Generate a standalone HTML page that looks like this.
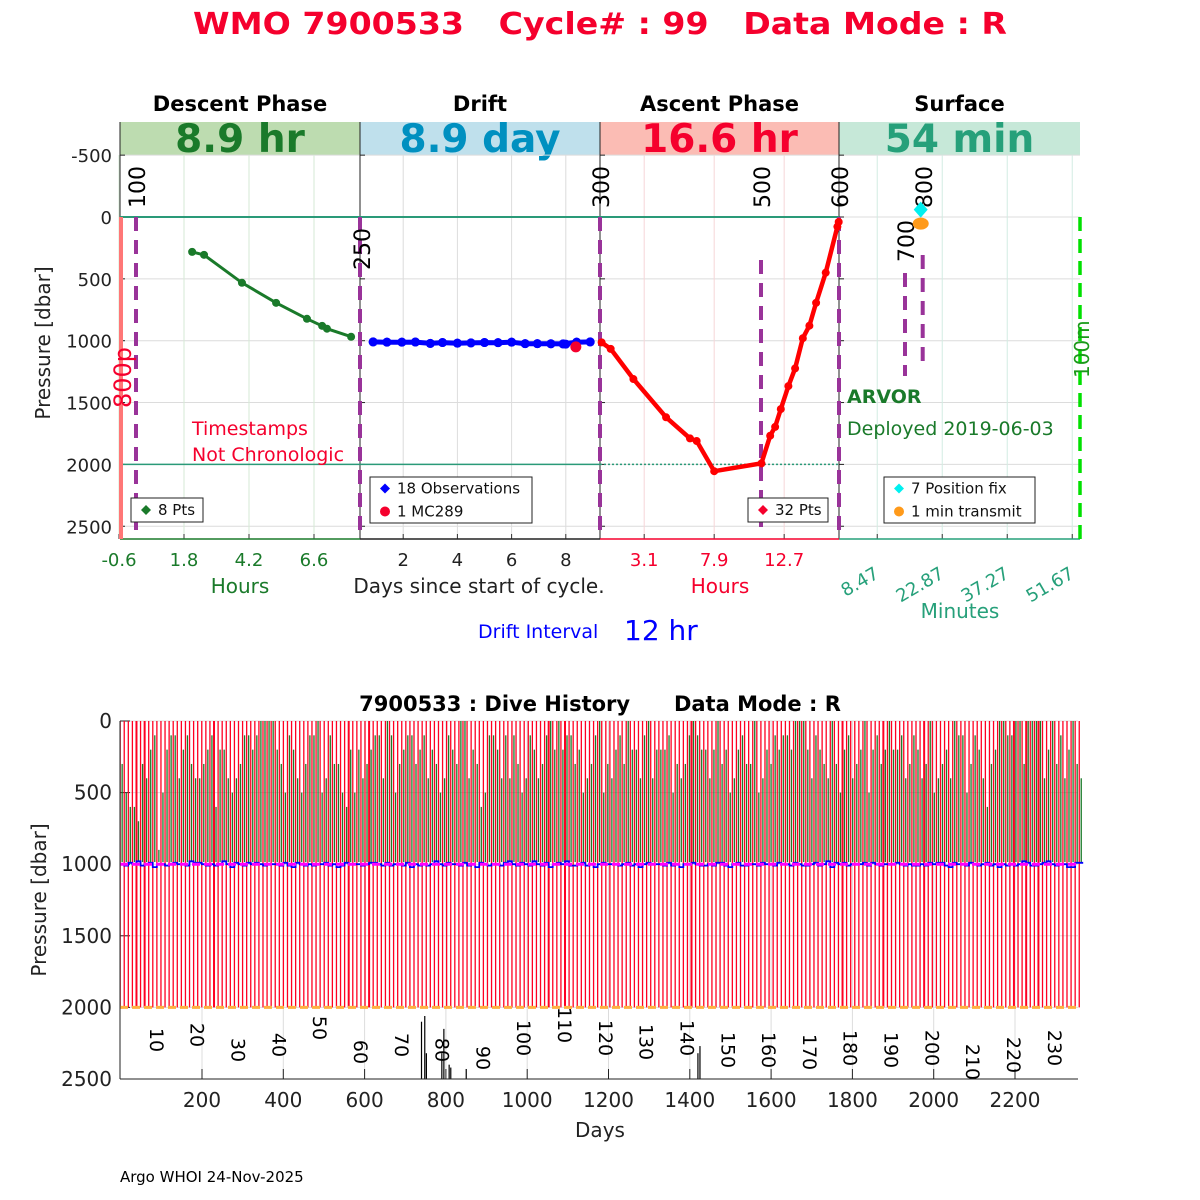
<!DOCTYPE html>
<html><head><meta charset="utf-8"><style>
html,body{margin:0;padding:0;background:#fff}
svg{display:block;font-family:"DejaVu Sans","Liberation Sans",sans-serif}
</style></head><body>
<svg id="s" width="1200" height="1200" viewBox="0 0 1200 1200">
<text x="600" y="34" text-anchor="middle" font-size="30" font-weight="bold" fill="#f5002d" textLength="814" lengthAdjust="spacingAndGlyphs">WMO 7900533&#160;&#160;&#160;Cycle# : 99&#160;&#160;&#160;Data Mode : R</text>
<g id="topg"></g>
<g id="bot"></g>
<text x="120" y="1182" font-size="15" fill="#000">Argo WHOI 24-Nov-2025</text>
</svg>
<script>
// ---------- top panel data ----------
const descentHours=[2.1,2.54,3.94,5.2,6.34,6.9,7.08,7.97];
const descentPres=[282,306,532,694,823,880,903,968];
const driftDays=[0.89,1.4,1.95,2.45,3.0,3.45,4.0,4.5,5.0,5.5,6.0,6.5,6.95,7.45,7.9,8.4,8.9,8.0];
const driftPres=[1010,1012,1012,1011,1022,1015,1020,1018,1015,1016,1012,1024,1024,1025,1026,1012,1010,1028];
const mcDays=[8.37];const mcPres=[1050];
const ascentHours=[0.18,0.8,2.36,4.6,6.24,6.7,7.9,11.14,11.74,12.08,12.47,12.99,13.45,13.98,14.43,14.89,15.55,16.35,16.44];
const ascentPres=[1014,1066,1310,1619,1790,1811,2055,1992,1768,1697,1553,1367,1224,980,879,694,450,78,40];
const fixMin=[18.1];const fixPres=[-60];
const txMin=[18.1];const txPres=[54];
const yTicksTop=[-500,0,500,1000,1500,2000,2500];
const descTicks=[-0.6,1.8,4.2,6.6];
const driftTicks=[2,4,6,8];
const ascTicks=[3.1,7.9,12.7];
const surfTicks=[8.47,22.87,37.27,51.67];
// ---------- bottom chart data ----------
const nCycles=236;
const greenTopStr="3566734219521142134432162245431121000023512453110541335625243211401532113214235412300423651124141354124310202113254310534213022410422215343101224203254213305423121120002412340352143205213202214312430543240115312463200110030000420314203412";
const driftStr="5645365475565455634456565357456454565556467456565546576455565445646556475656535645564657456556435645635647545366546575455565465754555646575545665644675466556455645564566546537454655546456555456566564544674556456546575656534665435655774464";
const deepRed=[5,7,24,57,62,106,110,141,178,188,198,220,223,226];
const spikeDays=[740,748,752,790,795,808,812,850,1420,1425];
const spikePres=[2100,2060,2320,2320,2150,2400,2420,2430,2320,2270];
const xTicksBot=[200,400,600,800,1000,1200,1400,1600,1800,2000,2200];
const yTicksBot=[0,500,1000,1500,2000,2500];
const cycLabels=[10,20,30,40,50,60,70,80,90,100,110,120,130,140,150,160,170,180,190,200,210,220,230];
const cycLabelY=[1040,1035,1050,1045,1028,1052,1045,1050,1058,1038,1025,1038,1042,1038,1050,1050,1052,1048,1050,1048,1062,1055,1048];

const NS="http://www.w3.org/2000/svg";
function mk(tag,attrs,parent,txt){const e=document.createElementNS(NS,tag);for(const k in attrs)e.setAttribute(k,attrs[k]);if(txt!==undefined)e.textContent=txt;parent.appendChild(e);return e;}
const topG=document.getElementById('topg');const bot=document.getElementById('bot');
const yT=p=>217+p*0.1237;
const L=120,R=1080,T=122,B=539;
const xDesc=h=>119+(h+0.6)*65/2.4;
const xDrift=d=>349+d*27.1;
const xAsc=h=>599+h*14.58;
const xSurf=m=>839+m*4.514;

const bands=[[120,360,'#bddcb0','#1a7a2a','8.9 hr','Descent Phase'],[360,600,'#bfe0ec','#0090c0','8.9 day','Drift'],[600,839,'#fbbcb4','#f5002d','16.6 hr','Ascent Phase'],[839,1080,'#c6e8d8','#26a07a','54 min','Surface']];
bands.forEach(b=>{
 let r=mk('rect',{x:b[0],y:122,width:b[1]-b[0],height:33,fill:b[2]},topG);
 
 let t=mk('text',{x:(b[0]+b[1])/2,y:152,'text-anchor':'middle','font-size':39,'font-weight':'bold',fill:b[3]},topG,b[4]);
 
 let h=mk('text',{x:(b[0]+b[1])/2,y:111,'text-anchor':'middle','font-size':21,'font-weight':'bold',fill:'#000'},topG,b[5]);
 
});
yTicksTop.forEach(p=>{
 let g=mk('line',{x1:L,x2:R,y1:yT(p),y2:yT(p),stroke:'#dcdcdc','stroke-width':1},topG);
 
 let t=mk('text',{x:112,y:yT(p)+7,'text-anchor':'end','font-size':18,fill:'#222'},topG,String(p));
 
 [120,360,600,839].forEach(x0=>{let tk=mk('line',{x1:x0,x2:x0+5,y1:yT(p),y2:yT(p),stroke:'#222'},topG);});
});
const vgrid=(arr,fx,col,lab,y)=>arr.forEach(v=>{
 let g=mk('line',{x1:fx(v),x2:fx(v),y1:155,y2:B,stroke:col,'stroke-width':1},topG);
 
 let tk=mk('line',{x1:fx(v),x2:fx(v),y1:B,y2:B-5,stroke:'#333'},topG);
 
 if(lab){let t=mk('text',{x:fx(v),y:y,'text-anchor':'middle','font-size':18,fill:lab},topG,String(v));
 }
});
vgrid(descTicks,xDesc,'#d6ead6','#1a7a2a',566);
vgrid(driftTicks,xDrift,'#dcdcdc','#222',566);
vgrid(ascTicks,xAsc,'#f6d6d8','#f5002d',566);
vgrid(surfTicks,xSurf,'#d2ece2',null,0);
surfTicks.forEach(v=>{const ax=xSurf(v)+3,ay=577;let t=mk('text',{x:ax,y:ay,'text-anchor':'end','font-size':18,fill:'#26a07a',transform:`rotate(-30 ${ax} ${ay})`},topG,String(v));});
[[120,'#222'],[360,'#222'],[600,'#222'],[839,'#222']].forEach(a=>{let l=mk('line',{x1:a[0],x2:a[0],y1:122,y2:B,stroke:a[1],'stroke-width':1},topG);});
[[120,360,'#1a7a2a'],[360,600,'#222'],[600,839,'#f5002d'],[839,1080,'#26a07a']].forEach(a=>{let l=mk('line',{x1:a[0],x2:a[1],y1:B,y2:B,stroke:a[2],'stroke-width':1.5},topG);});
let z=mk('line',{x1:120,x2:839,y1:yT(0),y2:yT(0),stroke:'#2a9a78','stroke-width':2},topG);
z=mk('line',{x1:120,x2:600,y1:yT(2000),y2:yT(2000),stroke:'#2a9a78','stroke-width':1.5},topG);
z=mk('line',{x1:600,x2:839,y1:yT(2000),y2:yT(2000),stroke:'#2a9a78','stroke-width':1.5,'stroke-dasharray':'2 2'},topG);
z=mk('line',{x1:121,x2:121,y1:217,y2:B,stroke:'#f77','stroke-width':4},topG);
z=mk('line',{x1:1080,x2:1080,y1:217,y2:B,stroke:'#00e000','stroke-width':3.5,'stroke-dasharray':'14 8'},topG);
[[136,217,B],[360,217,B],[600,217,B],[761,260,530],[839,217,B],[905,273,376],[922.7,255,365]].forEach(d=>{let l=mk('line',{x1:d[0],x2:d[0],y1:d[1],y2:d[2],stroke:'#993399','stroke-width':4,'stroke-dasharray':'14 9'},topG);});
const rl=(x,y,s,col,fs,nm)=>{let t=mk('text',{x:x,y:y,'font-size':fs,fill:col,transform:`rotate(-90 ${x} ${y})`},topG,s);};
[[145,208,'100'],[370,270,'250'],[609,208,'300'],[770,208,'500'],[848,208,'600'],[914,262,'700'],[932,208,'800']].forEach(a=>rl(a[0],a[1],a[2],'#000',22,'event-label'));
rl(131,408,'800p','#f5002d',24,'event-label');
rl(1089,378,'100m','#1a9a1a',20,'event-label');
function series(xs,ys,fx,col,w,nm,r){
 let d=xs.map((v,i)=>(i?'L':'M')+fx(v).toFixed(1)+' '+yT(ys[i]).toFixed(1)).join(' ');
 let p=mk('path',{d:d,fill:'none',stroke:col,'stroke-width':w},topG);
 xs.forEach((v,i)=>{let c=mk('circle',{cx:fx(v),cy:yT(ys[i]),r:r,fill:col},topG);});
}
series(descentHours,descentPres,xDesc,'#1a7a2a',3,'descent',4);
series(driftDays.slice(0,17),driftPres.slice(0,17),xDrift,'#0000ff',5,'drift',4.5);
driftDays.forEach((v,i)=>{let c=mk('circle',{cx:xDrift(v),cy:yT(driftPres[i]),r:4.5,fill:'#0000ff'},topG);});
mcDays.forEach((v,i)=>{let c=mk('circle',{cx:xDrift(v),cy:yT(mcPres[i]),r:5.5,fill:'#f5002d'},topG);});
series(ascentHours,ascentPres,xAsc,'#ff0000',4.5,'ascent',4);
fixMin.forEach((v,i)=>{let c=mk('path',{d:`M${xSurf(v)} ${yT(fixPres[i])-8}l7 8l-7 8l-7-8z`,fill:'#00f0f0'},topG);});
txMin.forEach((v,i)=>{let c=mk('ellipse',{cx:xSurf(v),cy:yT(txPres[i]),rx:8,ry:6,fill:'#ff9a1a'},topG);});
const tx=(x,y,s,col,fs,nm,extra)=>{let t=mk('text',Object.assign({x:x,y:y,'font-size':fs,fill:col},extra||{}),topG,s);return t;};
tx(192,435,'Timestamps','#f5002d',19,'timestamp-warning');
tx(192,461,'Not Chronologic','#f5002d',19,'timestamp-warning');
tx(847,403,'ARVOR','#1a7a2a',19,'float-type',{'font-weight':'bold'});
tx(847,435,'Deployed 2019-06-03','#1a7a2a',19,'deploy-date');
tx(240,593,'Hours','#1a7a2a',20,'x-axis-title',{'text-anchor':'middle'});
tx(479,593,'Days since start of cycle.','#222',20,'x-axis-title',{'text-anchor':'middle'});
tx(720,593,'Hours','#f5002d',20,'x-axis-title',{'text-anchor':'middle'});
tx(960,618,'Minutes','#26a07a',20,'x-axis-title',{'text-anchor':'middle'});
tx(478,638,'Drift Interval','#0000ff',19,'drift-interval-label');
tx(624,640,'12 hr','#0000ff',28,'drift-interval-value');
tx(0,0,'Pressure [dbar]','#222',20,'y-axis-title',{'text-anchor':'middle',transform:'translate(50 343) rotate(-90)'});
const leg=(x,y,w,h,items)=>{let r=mk('rect',{x:x,y:y,width:w,height:h,fill:'#fff',stroke:'#222','stroke-width':1},topG);
 items.forEach((it,i)=>{let cy=y+(h/items.length)*(i+0.5);let m;
  if(it[1]==='d')m=mk('path',{d:`M${x+15} ${cy-5}l5 5l-5 5l-5-5z`,fill:it[0]},topG);else m=mk('circle',{cx:x+15,cy:cy,r:5,fill:it[0]},topG);
  
  let t=mk('text',{x:x+27,y:cy+5,'font-size':15,fill:'#111'},topG,it[2]);});};
leg(131,498,72,24,[['#1a7a2a','d','8 Pts']]);
leg(370,477,162,46,[['#0000ff','d','18 Observations'],['#f5002d','c','1 MC289']]);
leg(748,498,80,24,[['#f5002d','d','32 Pts']]);
leg(884,477,151,46,[['#00f0f0','d','7 Position fix'],['#ff9a1a','c','1 min transmit']]);

// ---------- bottom chart ----------
const BL=120,BR=1078,BT=721,BB=1079;
const yB=p=>BT+p*(BB-BT)/2500;
const xB=d=>120.7+d*0.4065;
const cycDay=c=>10.04*c-11.4;
const bm=(tag,a,nm)=>{let e=mk(tag,a,bot);return e;};
bm('text',{x:600,y:711,'text-anchor':'middle','font-size':21,'font-weight':'bold',fill:'#000'},'chart-title').textContent='7900533 : Dive History\u00a0\u00a0\u00a0\u00a0\u00a0\u00a0Data Mode : R';
yTicksBot.forEach(p=>{let g=mk('line',{x1:BL,x2:BR,y1:yB(p),y2:yB(p),stroke:'#dcdcdc'},bot);
 let t=mk('text',{x:112,y:yB(p)+7,'text-anchor':'end','font-size':20,fill:'#222'},bot,String(p));
 let tk=mk('line',{x1:BL,x2:BL+10,y1:yB(p),y2:yB(p),stroke:'#222'},bot);});
xTicksBot.forEach(d=>{let g=mk('line',{x1:xB(d),x2:xB(d),y1:BT,y2:BB,stroke:'#dcdcdc'},bot);
 let tk=mk('line',{x1:xB(d),x2:xB(d),y1:BB,y2:BB-10,stroke:'#222'},bot);
 let t=mk('text',{x:xB(d),y:BB+28,'text-anchor':'middle','font-size':20,fill:'#222'},bot,String(d));});
for(let c=1;c<=nCycles;c++){
 const x=xB(cycDay(c));
 const deep=deepRed.indexOf(c)>=0;
 let r=mk('line',{x1:x,x2:x,y1:yB(0),y2:yB(2000),stroke:'#ff0022','stroke-width':deep?2:1.3},bot);
 
 const gt=+greenTopStr[(c-1)%greenTopStr.length]*100;
 let g=mk('line',{x1:x+2,x2:x+2,y1:yB(gt),y2:yB(985),stroke:'#1a7a2a','stroke-width':1.3},bot);
 
}
let dd='';for(let c=1;c<=nCycles;c++){const p=1000+(+driftStr[(c-1)%driftStr.length]-5)*10;const x=xB(cycDay(c));dd+=(c>1?'L':'M')+x.toFixed(1)+' '+yB(p).toFixed(1)+'H'+(x+4).toFixed(1);}
bm('path',{d:dd,fill:'none',stroke:'#0000ff','stroke-width':1.8},'drift-pressure-line');
bm('line',{x1:BL,x2:BR,y1:yB(1000),y2:yB(1000),stroke:'#ff00ff','stroke-width':3,'stroke-dasharray':'8 4'},'park-target-line');
bm('line',{x1:BL,x2:BR,y1:yB(2000),y2:yB(2000),stroke:'#ffb040','stroke-width':3,'stroke-dasharray':'8 4'},'profile-target-line');
spikeDays.forEach((d,i)=>{let s=mk('line',{x1:xB(d),x2:xB(d),y1:yB(spikePres[i]),y2:BB,stroke:'#000','stroke-width':1.2},bot);});
cycLabels.forEach((c,i)=>{const x=xB(cycDay(c))-7;const y=cycLabelY[i];let t=mk('text',{x:x,y:y,'text-anchor':'middle','font-size':19,fill:'#000',transform:`rotate(90 ${x} ${y})`},bot,String(c));});
bm('line',{x1:BL,x2:BL,y1:BT,y2:BB,stroke:'#222'},'y-axis-line');
bm('line',{x1:BL,x2:BR,y1:BB,y2:BB,stroke:'#222'},'x-axis-line');
let yt=mk('text',{x:0,y:0,'text-anchor':'middle','font-size':20,fill:'#222',transform:'translate(46 900) rotate(-90)'},bot,'Pressure [dbar]');
let xt=mk('text',{x:600,y:1137,'text-anchor':'middle','font-size':20,fill:'#222'},bot,'Days');
</script>
</body></html>
